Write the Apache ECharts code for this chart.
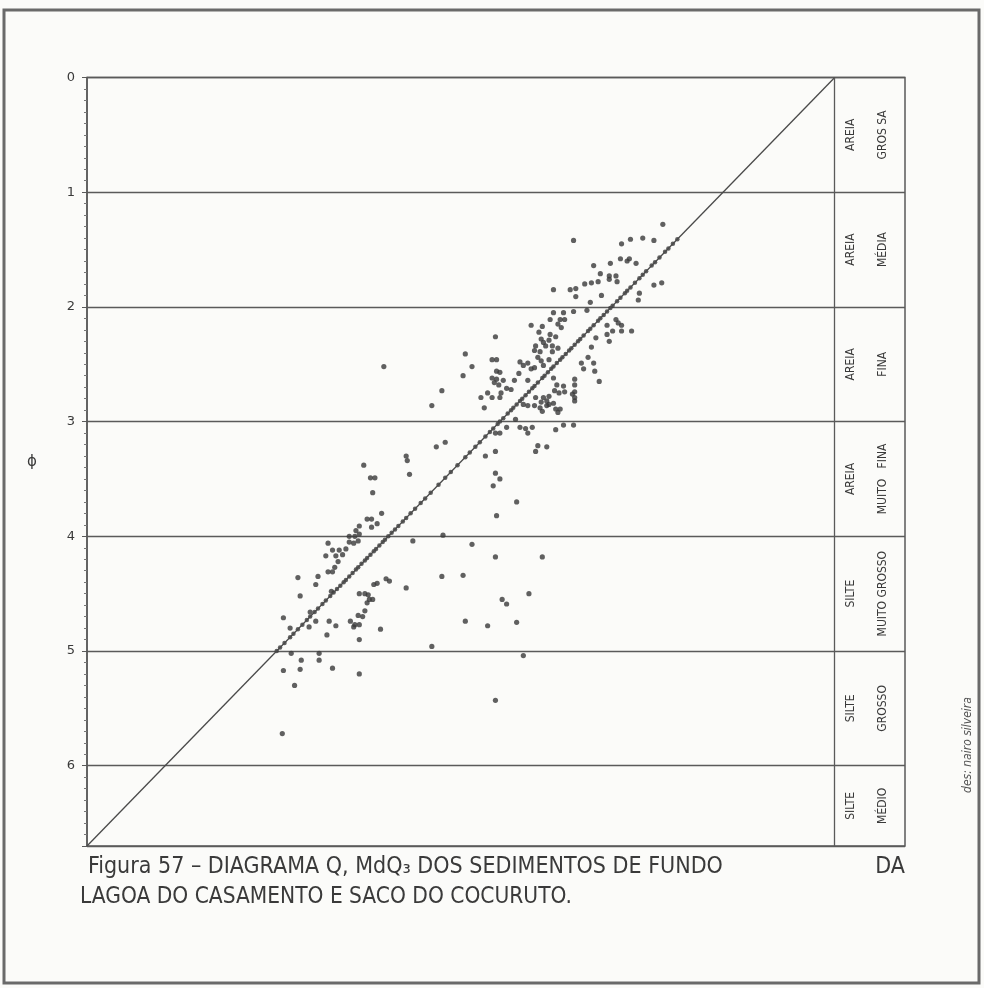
<!DOCTYPE html>
<html>
<head>
<meta charset="utf-8">
<script src="https://cdn.jsdelivr.net/npm/echarts@6/dist/echarts.min.js"></script>
<style>
html,body{margin:0;padding:0;background:#fbfbf9;}
#main{width:984px;height:988px;}
</style>
</head>
<body>
<div id="main"></div>
<script>
// ---------------- DATA (phi units) ----------------
const yTicks = [0, 1, 2, 3, 4, 5, 6];
const Y_MAX = 6.7;
const X_PANEL = -0.63; // extra x range used by the class panel at right

// Grain-size classes (phi ranges) and their two-line labels
const bandRanges = [[0,1],[1,2],[2,3],[3,4],[4,5],[5,6],[6,6.7]];
const bandLine1 = ['AREIA','AREIA','AREIA','AREIA','SILTE','SILTE','SILTE'];
const bandLine2 = ['GROS SA','MÉDIA','FINA','MUITO   FINA','MUITO GROSSO','GROSSO','MÉDIO'];

// Median (Md) of each sample, plotted on the Md = phi line
const mdValues = [1.41,1.45,1.49,1.52,1.57,1.61,1.64,1.69,1.72,1.75,1.79,1.83,1.86,1.88,1.92,1.95,1.99,2.01,
  2.04,2.07,2.1,2.12,2.16,2.19,2.21,2.25,2.28,2.3,2.33,2.36,2.38,2.41,2.44,2.46,2.49,2.52,2.54,2.57,2.6,
  2.62,2.66,2.69,2.71,2.74,2.77,2.8,2.82,2.85,2.88,2.9,2.93,2.97,3.0,3.02,3.06,3.09,3.13,3.18,3.22,3.27,
  3.31,3.38,3.44,3.49,3.55,3.62,3.67,3.71,3.76,3.8,3.84,3.87,3.91,3.94,3.97,4.0,4.03,4.05,4.08,4.11,4.13,
  4.16,4.19,4.21,4.24,4.27,4.29,4.32,4.35,4.38,4.4,4.43,4.46,4.49,4.52,4.56,4.59,4.63,4.66,4.7,4.73,
  4.77,4.81,4.85,4.88,4.93,4.97,5.0];

// First quartile points [Md, Q1]
const q1Points = [
  [2.34,1.42],[1.54,1.28],[1.91,1.45],[1.83,1.41],[1.72,1.40],[1.62,1.42],[2.16,1.64],[2.01,1.62],
  [1.92,1.58],[1.86,1.60],[1.84,1.58],[1.78,1.62],[2.10,1.71],[2.02,1.73],[1.96,1.73],[2.02,1.76],
  [1.95,1.78],[2.37,1.85],[2.32,1.84],[2.24,1.80],[2.18,1.79],[2.12,1.78],[2.32,1.91],[2.09,1.90],
  [2.52,1.85],[2.19,1.96],[2.22,2.03],[2.34,2.04],[2.43,2.05],[2.52,2.05],[2.46,2.11],[2.42,2.11],
  [2.55,2.11],[2.48,2.15],[2.45,2.18],[2.72,2.16],[2.65,2.22],[2.62,2.17],[2.55,2.24],[2.50,2.26],
  [2.63,2.28],[2.61,2.31],[2.56,2.29],[2.68,2.34],[2.69,2.38],[2.64,2.39],[2.59,2.34],[2.53,2.34],
  [2.48,2.36],[2.66,2.44],[2.63,2.47],[2.61,2.51],[2.56,2.46],[2.53,2.39],[2.75,2.49],[2.72,2.54],
  [2.69,2.53],[2.79,2.51],[2.82,2.48],[2.83,2.58],[2.87,2.64],[2.75,2.64],[3.04,2.26],[3.07,2.46],
  [3.03,2.46],[3.03,2.56],[3.00,2.57],[3.07,2.62],[3.03,2.63],[2.97,2.64],[3.05,2.66],[3.01,2.68],
  [2.94,2.71],[2.90,2.72],[2.99,2.75],[3.00,2.79],[3.07,2.79],[3.11,2.75],[3.17,2.79],[3.14,2.88],
  [3.31,2.41],[3.25,2.52],[3.33,2.60],[3.52,2.73],[3.61,2.86],[3.57,3.22],[3.49,3.18],[4.04,2.52],
  [3.84,3.30],[3.83,3.34],[3.81,3.46],[4.22,3.38],[4.16,3.49],[4.12,3.49],[4.14,3.62],[4.06,3.80],
  [4.19,3.85],[4.15,3.85],[4.15,3.92],[4.10,3.89],[4.26,3.91],[4.29,3.95],[4.35,4.00],[4.30,4.00],
  [4.26,3.98],[4.35,4.05],[4.31,4.06],[4.27,4.04],[4.54,4.06],[4.50,4.12],[4.44,4.12],[4.38,4.11],
  [4.56,4.17],[4.47,4.17],[4.41,4.16],[4.45,4.22],[4.48,4.27],[4.50,4.31],[4.54,4.31],[4.81,4.36],
  [4.63,4.35],[4.65,4.42],[4.79,4.52],[4.51,4.48],[4.94,4.71],[4.88,4.80],[4.70,4.66]
];

// Third quartile points [Md, Q3]
const q3Points = [
  [1.62,1.81],[1.55,1.79],[1.75,1.88],[1.76,1.94],[1.96,2.11],[1.94,2.14],[1.91,2.16],[2.04,2.16],
  [1.99,2.21],[1.91,2.21],[1.82,2.21],[2.04,2.24],[2.02,2.30],[2.14,2.27],[2.18,2.35],[2.21,2.44],
  [2.27,2.49],[2.16,2.49],[2.25,2.54],[2.15,2.56],[2.11,2.65],[2.33,2.63],[2.33,2.68],[2.33,2.74],
  [2.33,2.79],[2.43,2.69],[2.42,2.74],[2.35,2.76],[2.33,2.82],[2.46,2.89],[2.43,3.03],[2.34,3.03],
  [2.52,2.62],[2.49,2.68],[2.51,2.73],[2.47,2.75],[2.56,2.78],[2.68,2.79],[2.63,2.83],[2.61,2.79],
  [2.58,2.82],[2.56,2.85],[2.52,2.84],[2.50,2.89],[2.79,2.85],[2.75,2.86],[2.69,2.86],[2.64,2.88],
  [2.62,2.91],[2.58,2.86],[2.48,2.92],[2.86,2.98],[2.82,3.05],[2.77,3.06],[2.71,3.05],[2.75,3.10],
  [2.94,3.05],[3.00,3.10],[3.04,3.10],[2.50,3.07],[2.66,3.21],[2.58,3.22],[2.68,3.26],[3.04,3.26],
  [3.13,3.30],[3.04,3.45],[3.00,3.50],[3.06,3.56],[2.85,3.70],[3.03,3.82],[3.51,3.99],[3.25,4.07],
  [3.04,4.18],[2.62,4.18],[3.52,4.35],[3.33,4.34],[2.98,4.55],[2.94,4.59],[2.74,4.50],[3.31,4.74],
  [3.11,4.78],[2.85,4.75],[3.61,4.96],[2.79,5.04],[3.04,5.43],[3.78,4.04],[3.84,4.45],[4.02,4.37],
  [3.99,4.39],[4.10,4.41],[4.13,4.42],[4.26,4.50],[4.21,4.50],[4.18,4.51],[4.17,4.55],[4.19,4.58],
  [4.14,4.55],[4.21,4.65],[4.27,4.69],[4.23,4.70],[4.34,4.74],[4.30,4.77],[4.26,4.77],[4.31,4.79],
  [4.53,4.74],[4.47,4.78],[4.55,4.86],[4.07,4.81],[4.26,4.90],[4.87,5.02],[4.62,5.02],[4.78,5.08],
  [4.62,5.08],[4.94,5.17],[4.79,5.16],[4.50,5.15],[4.26,5.20],[4.84,5.30],[4.95,5.72],[4.71,4.79],
  [4.65,4.74]
];

// Reference diagonal (Md = phi)
const diagonal = [[0, 0], [Y_MAX, Y_MAX]];

// Caption
const captionLine1 = 'Figura 57 – DIAGRAMA Q, MdQ₃ DOS SEDIMENTOS DE FUNDO';
const captionLine1End = 'DA';
const captionLine2 = 'LAGOA DO CASAMENTO E SACO DO COCURUTO.';
const credit = 'des: nairo silveira';

// ---------------- CHART ----------------
const INK = '#3a3a3a';
const LINE = '#5a5a5a';
const FONT = '"DejaVu Sans Condensed","Liberation Sans Narrow","DejaVu Sans",sans-serif';

const chart = echarts.init(document.getElementById('main'));
const dotStyle = {color: '#3a3a3a'};

chart.setOption({
  backgroundColor: '#fbfbf9',
  animation: false,
  grid: {left: 87, top: 77.5, right: 79, bottom: 142, show: true,
         borderColor: LINE, borderWidth: 1.5, backgroundColor: 'transparent'},
  xAxis: {type: 'value', min: X_PANEL, max: Y_MAX, inverse: true, show: false},
  yAxis: {
    type: 'value', min: 0, max: Y_MAX, interval: 1, inverse: true,
    name: 'ϕ', nameLocation: 'middle', nameGap: 50, nameRotate: 0,
    nameTextStyle: {fontSize: 15, color: INK, fontFamily: 'DejaVu Sans'},
    axisLine: {show: true, onZero: false, lineStyle: {color: LINE, width: 1.5}},
    axisTick: {show: true, length: 5, lineStyle: {color: LINE}},
    minorTick: {show: true, splitNumber: 10, length: 3, lineStyle: {color: '#777'}},
    axisLabel: {showMaxLabel: false, margin: 12, fontSize: 13, color: INK, fontFamily: 'DejaVu Sans'},
    splitLine: {show: true, lineStyle: {color: LINE, width: 1.3}}
  },
  series: [
    {
      type: 'line', data: diagonal, symbol: 'none', silent: true,
      lineStyle: {color: '#4a4a4a', width: 1.3},
      markLine: {
        silent: true, symbol: 'none', label: {show: false},
        lineStyle: {color: LINE, width: 1.3, type: 'solid'},
        data: [{xAxis: 0}]
      }
    },
    {type: 'scatter', name: 'Md', data: mdValues.map(v => [v, v]), symbolSize: 4.5, itemStyle: dotStyle},
    {type: 'scatter', name: 'Q1', data: q1Points, symbolSize: 5.2, itemStyle: dotStyle},
    {type: 'scatter', name: 'Q3', data: q3Points, symbolSize: 5.2, itemStyle: dotStyle}
  ]
});

// Class labels in the right-hand panel, plus caption and frame
const p0 = chart.convertToPixel({gridIndex: 0}, [0, 0]);
const p1 = chart.convertToPixel({gridIndex: 0}, [X_PANEL, Y_MAX]);
const pL = chart.convertToPixel({gridIndex: 0}, [Y_MAX, Y_MAX]);
const colA = p0[0] + 0.23 * (p1[0] - p0[0]);
const colB = p0[0] + 0.69 * (p1[0] - p0[0]);
const graphics = [];
bandRanges.forEach((r, i) => {
  const yc = chart.convertToPixel({gridIndex: 0}, [0, (r[0] + r[1]) / 2])[1];
  [[colA, bandLine1[i]], [colB, bandLine2[i]]].forEach(([x, t]) => {
    graphics.push({
      type: 'text', x: x, y: yc, rotation: Math.PI / 2, silent: true,
      style: {text: t, fill: INK, font: '12px ' + FONT, textAlign: 'center', textVerticalAlign: 'middle'}
    });
  });
});
const capY1 = pL[1] + 21;
const capY2 = pL[1] + 51;
graphics.push({
  type: 'text', x: pL[0] + 1, y: capY1, silent: true,
  style: {text: captionLine1, fill: INK, font: '23px ' + FONT, textAlign: 'left', textVerticalAlign: 'middle'}
});
graphics.push({
  type: 'text', x: p1[0], y: capY1, silent: true,
  style: {text: captionLine1End, fill: INK, font: '23px ' + FONT, textAlign: 'right', textVerticalAlign: 'middle'}
});
graphics.push({
  type: 'text', x: pL[0] - 7, y: capY2, silent: true,
  style: {text: captionLine2, fill: INK, font: '22.5px ' + FONT, textAlign: 'left', textVerticalAlign: 'middle'}
});
graphics.push({
  type: 'text', x: 968, y: 745, rotation: Math.PI / 2, silent: true,
  style: {text: credit, fill: '#555', font: 'italic 12px ' + FONT, textAlign: 'center', textVerticalAlign: 'middle'}
});
graphics.push({
  type: 'rect', shape: {x: 4, y: 10, width: 975, height: 973}, silent: true,
  style: {fill: 'none', stroke: '#6a6a6a', lineWidth: 3}
});
chart.setOption({graphic: graphics});
</script>
</body>
</html>
